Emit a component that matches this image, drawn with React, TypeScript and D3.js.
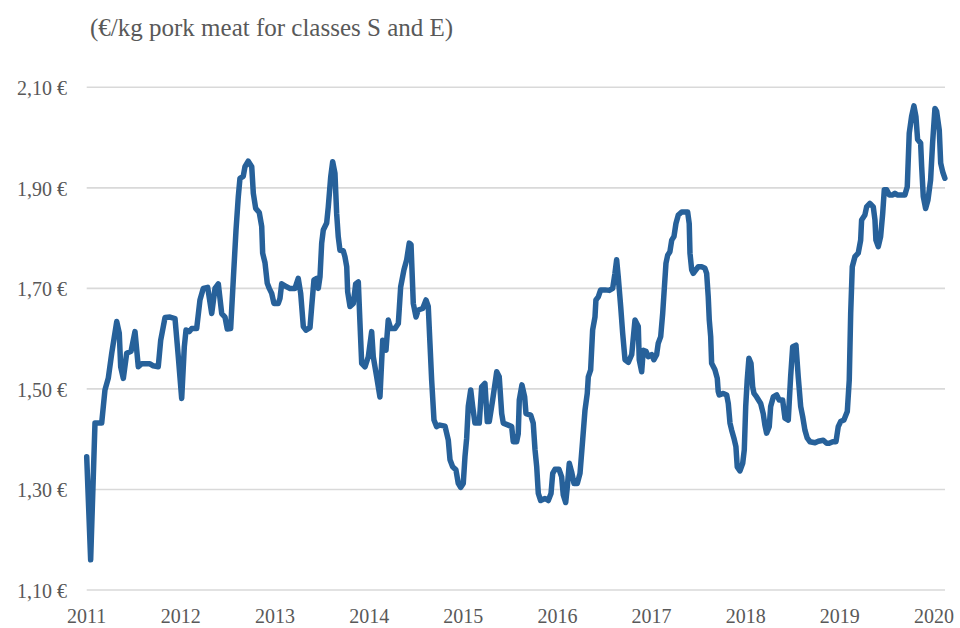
import React from "react";
import * as d3 from "d3";

const title = "(€/kg pork meat for classes S and E)";
const yearTicks = [2011, 2012, 2013, 2014, 2015, 2016, 2017, 2018, 2019, 2020];
const priceTicks = [1.1, 1.3, 1.5, 1.7, 1.9, 2.1];

// time position in years since start of 2011
const yearsSince2011 = [
  0.000, 0.042, 0.088, 0.159, 0.194, 0.229, 0.266, 0.319, 0.346, 0.361, 0.389, 0.425, 0.471, 0.513, 0.548, 0.584, 0.672, 0.707, 0.760, 0.786,
  0.832, 0.885, 0.938, 0.973, 1.009, 1.037, 1.055, 1.090, 1.115, 1.168, 1.203, 1.238, 1.285, 1.328, 1.363, 1.398, 1.434, 1.469, 1.493, 1.529,
  1.557, 1.586, 1.610, 1.628, 1.663, 1.681, 1.716, 1.753, 1.770, 1.795, 1.833, 1.859, 1.869, 1.894, 1.918, 1.939, 1.965, 1.989, 2.035, 2.053,
  2.071, 2.124, 2.159, 2.212, 2.247, 2.273, 2.301, 2.329, 2.372, 2.390, 2.414, 2.443, 2.460, 2.478, 2.496, 2.513, 2.549, 2.566, 2.592, 2.613,
  2.637, 2.655, 2.672, 2.690, 2.725, 2.743, 2.762, 2.772, 2.797, 2.832, 2.857, 2.885, 2.903, 2.921, 2.956, 2.991, 3.027, 3.044, 3.080, 3.115,
  3.144, 3.179, 3.203, 3.229, 3.275, 3.310, 3.335, 3.370, 3.399, 3.426, 3.445, 3.469, 3.498, 3.522, 3.569, 3.604, 3.628, 3.646, 3.664, 3.689,
  3.717, 3.752, 3.806, 3.841, 3.859, 3.887, 3.922, 3.947, 3.972, 4.000, 4.018, 4.036, 4.053, 4.079, 4.100, 4.124, 4.170, 4.195, 4.230, 4.255,
  4.276, 4.312, 4.355, 4.382, 4.408, 4.425, 4.478, 4.514, 4.531, 4.567, 4.584, 4.595, 4.623, 4.652, 4.666, 4.716, 4.743, 4.762, 4.780, 4.797,
  4.822, 4.868, 4.903, 4.932, 4.950, 4.974, 5.017, 5.045, 5.062, 5.088, 5.105, 5.126, 5.151, 5.176, 5.211, 5.240, 5.268, 5.293, 5.317, 5.328,
  5.353, 5.374, 5.399, 5.409, 5.434, 5.459, 5.505, 5.551, 5.587, 5.611, 5.629, 5.646, 5.672, 5.693, 5.718, 5.753, 5.789, 5.824, 5.859, 5.869,
  5.895, 5.912, 5.941, 5.965, 6.001, 6.025, 6.054, 6.071, 6.097, 6.118, 6.132, 6.153, 6.171, 6.195, 6.214, 6.238, 6.259, 6.284, 6.320, 6.355,
  6.383, 6.400, 6.408, 6.426, 6.443, 6.471, 6.496, 6.532, 6.567, 6.585, 6.602, 6.613, 6.628, 6.638, 6.673, 6.698, 6.708, 6.719, 6.762, 6.798,
  6.815, 6.833, 6.851, 6.875, 6.896, 6.910, 6.939, 6.968, 6.985, 7.000, 7.016, 7.034, 7.056, 7.074, 7.088, 7.116, 7.159, 7.186, 7.204, 7.222,
  7.250, 7.265, 7.293, 7.329, 7.356, 7.392, 7.417, 7.452, 7.477, 7.499, 7.534, 7.558, 7.584, 7.605, 7.629, 7.654, 7.683, 7.736, 7.771, 7.824,
  7.860, 7.887, 7.924, 7.959, 7.983, 8.008, 8.043, 8.079, 8.100, 8.115, 8.132, 8.160, 8.195, 8.221, 8.231, 8.266, 8.284, 8.319, 8.355, 8.373,
  8.383, 8.408, 8.433, 8.455, 8.472, 8.497, 8.525, 8.561, 8.585, 8.610, 8.656, 8.691, 8.716, 8.737, 8.762, 8.787, 8.808, 8.826, 8.858, 8.869,
  8.886, 8.911, 8.936, 8.964, 8.985, 9.010, 9.028, 9.056, 9.071, 9.092, 9.116,
];

const prices = [
  1.365, 1.160, 1.432, 1.432, 1.498, 1.521, 1.571, 1.634, 1.611, 1.544, 1.521, 1.571, 1.575, 1.614, 1.544, 1.550, 1.550, 1.546, 1.544, 1.597,
  1.642, 1.643, 1.640, 1.564, 1.481, 1.584, 1.617, 1.614, 1.620, 1.620, 1.677, 1.700, 1.702, 1.650, 1.700, 1.709, 1.650, 1.643, 1.619, 1.620,
  1.717, 1.816, 1.882, 1.919, 1.923, 1.942, 1.953, 1.942, 1.889, 1.859, 1.851, 1.823, 1.770, 1.751, 1.710, 1.700, 1.690, 1.670, 1.670, 1.680,
  1.709, 1.703, 1.700, 1.700, 1.720, 1.690, 1.624, 1.617, 1.622, 1.664, 1.717, 1.720, 1.700, 1.723, 1.790, 1.816, 1.830, 1.862, 1.922, 1.952,
  1.929, 1.849, 1.803, 1.776, 1.775, 1.763, 1.743, 1.693, 1.664, 1.670, 1.709, 1.713, 1.630, 1.551, 1.544, 1.564, 1.614, 1.564, 1.524, 1.484,
  1.597, 1.577, 1.637, 1.620, 1.620, 1.630, 1.703, 1.737, 1.757, 1.790, 1.787, 1.670, 1.643, 1.657, 1.660, 1.677, 1.664, 1.591, 1.518, 1.438,
  1.425, 1.428, 1.426, 1.398, 1.359, 1.345, 1.339, 1.312, 1.304, 1.312, 1.365, 1.402, 1.465, 1.498, 1.465, 1.432, 1.432, 1.504, 1.511, 1.435,
  1.435, 1.478, 1.534, 1.524, 1.451, 1.432, 1.428, 1.425, 1.395, 1.395, 1.411, 1.478, 1.508, 1.484, 1.451, 1.448, 1.432, 1.379, 1.345, 1.292,
  1.278, 1.282, 1.278, 1.292, 1.332, 1.340, 1.340, 1.325, 1.289, 1.274, 1.305, 1.352, 1.335, 1.312, 1.312, 1.332, 1.398, 1.458, 1.491, 1.524,
  1.538, 1.617, 1.643, 1.677, 1.683, 1.697, 1.697, 1.696, 1.700, 1.730, 1.757, 1.723, 1.664, 1.611, 1.558, 1.553, 1.568, 1.637, 1.624, 1.558,
  1.534, 1.577, 1.575, 1.564, 1.568, 1.558, 1.568, 1.591, 1.604, 1.650, 1.690, 1.750, 1.766, 1.773, 1.796, 1.803, 1.829, 1.846, 1.852, 1.852,
  1.852, 1.829, 1.770, 1.737, 1.730, 1.737, 1.743, 1.743, 1.740, 1.730, 1.683, 1.637, 1.604, 1.551, 1.538, 1.521, 1.495, 1.488, 1.491, 1.488,
  1.471, 1.432, 1.418, 1.402, 1.385, 1.345, 1.337, 1.352, 1.379, 1.465, 1.518, 1.561, 1.551, 1.504, 1.491, 1.484, 1.471, 1.451, 1.428, 1.412,
  1.425, 1.465, 1.484, 1.488, 1.478, 1.478, 1.442, 1.438, 1.524, 1.584, 1.587, 1.524, 1.465, 1.445, 1.418, 1.402, 1.395, 1.393, 1.396, 1.398,
  1.392, 1.392, 1.395, 1.395, 1.425, 1.435, 1.438, 1.455, 1.518, 1.650, 1.743, 1.763, 1.770, 1.796, 1.836, 1.846, 1.862, 1.869, 1.862, 1.836,
  1.796, 1.783, 1.803, 1.849, 1.896, 1.896, 1.886, 1.886, 1.889, 1.886, 1.886, 1.886, 1.902, 2.009, 2.042, 2.063, 2.042, 1.996, 1.989, 1.942,
  1.883, 1.859, 1.876, 1.916, 1.989, 2.058, 2.052, 2.015, 1.949, 1.932, 1.919,
];

const W = 960;
const H = 628;
const plotLeft = 86.7;
const plotRight = 945;
const FONT = "'Liberation Serif', 'Times New Roman', serif";
const TEXT = "#595959";
const LINE = "#27619A";

export default function App() {
  const x = d3.scaleLinear().domain([2011, 2020]).range([plotLeft, 934]);
  const y = d3.scaleLinear().domain([1.1, 2.1]).range([590, 87.3]);
  const data = prices.map((v, i) => ({ t: 2011 + yearsSince2011[i], v }));
  const line = d3
    .line<{ t: number; v: number }>()
    .x((d) => x(d.t))
    .y((d) => y(d.v));
  const fmt = (v: number) => v.toFixed(2).replace(".", ",") + " €";

  return (
    <svg
      width={W}
      height={H}
      style={{ position: "absolute", left: 0, top: 0, background: "#fff" }}
    >
      <rect x={0} y={0} width={W} height={H} fill="#fff" />
      <text x={90} y={36} fontFamily={FONT} fontSize={25} fill={TEXT}>
        {title}
      </text>
      {priceTicks.map((p) => (
        <g key={p}>
          <line
            x1={plotLeft}
            x2={plotRight}
            y1={y(p)}
            y2={y(p)}
            stroke="#d9d9d9"
            strokeWidth={1.6}
          />
          <text
            x={67}
            y={y(p) + 8}
            textAnchor="end"
            fontFamily={FONT}
            fontSize={20}
            fill={TEXT}
          >
            {fmt(p)}
          </text>
        </g>
      ))}
      {yearTicks.map((yr) => (
        <text
          key={yr}
          x={x(yr)}
          y={623}
          textAnchor="middle"
          fontFamily={FONT}
          fontSize={20}
          fill={TEXT}
        >
          {yr}
        </text>
      ))}
      <path
        d={line(data) || ""}
        fill="none"
        stroke={LINE}
        strokeWidth={5.5}
        strokeLinejoin="round"
        strokeLinecap="round"
      />
    </svg>
  );
}
